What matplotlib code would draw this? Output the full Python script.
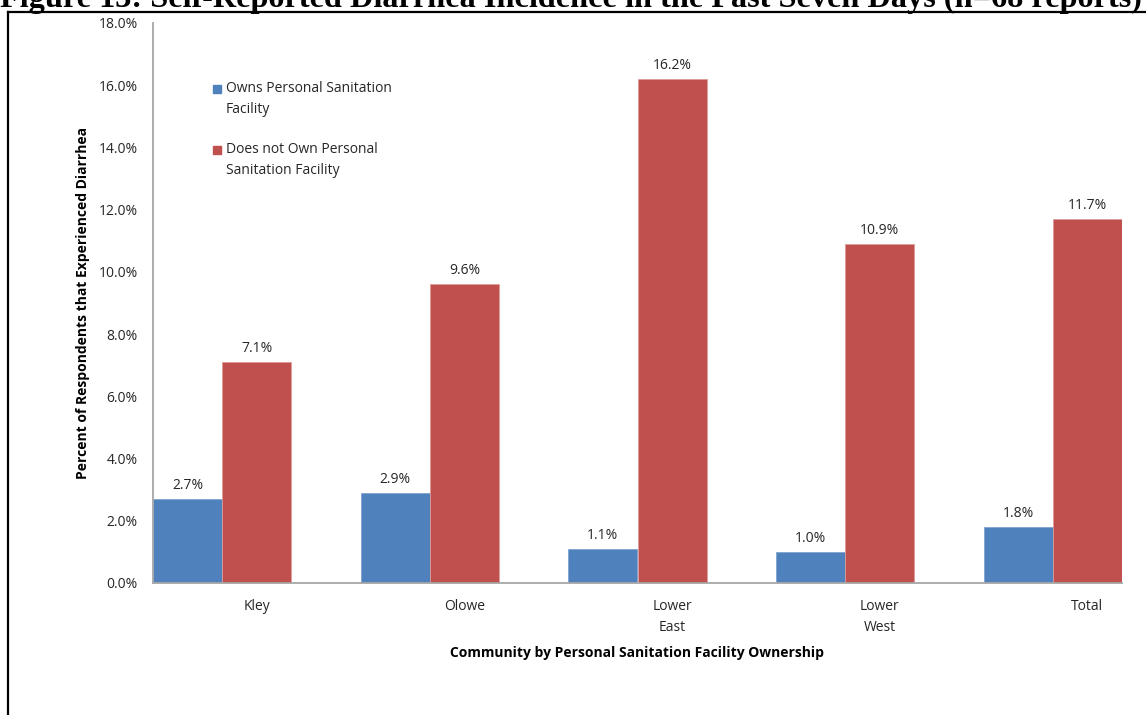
import matplotlib
matplotlib.use("Agg")
import matplotlib.pyplot as plt
from matplotlib.patches import Rectangle
from matplotlib.lines import Line2D
from matplotlib.ticker import FuncFormatter
import numpy as np

# Data
communities = ["Kley", "Olowe", "Lower\nEast", "Lower\nWest", "Total"]
owns_facility = [2.7, 2.9, 1.1, 1.0, 1.8]
no_facility = [7.1, 9.6, 16.2, 10.9, 11.7]
series_names = ["Owns Personal Sanitation\nFacility",
                "Does not Own Personal\nSanitation Facility"]
title = "Figure 13: Self-Reported Diarrhea Incidence in the Past Seven Days (n=68 reports)"
x_title = "Community by Personal Sanitation Facility Ownership"
y_title = "Percent of Respondents that Experienced Diarrhea"
y_ticks = [0, 2, 4, 6, 8, 10, 12, 14, 16, 18]

BLUE = "#4F81BD"
RED = "#C0504D"
TEXT = "#262626"
AXIS = "#a6a6a6"
FONT = "Open Sans"
FS = 10.0

W, H, DPI = 1146, 715, 100
fig = plt.figure(figsize=(W / DPI, H / DPI), dpi=DPI)


def px(x, y):
    """Pixel position (from top-left) to figure fraction."""
    return x / W, 1 - y / H


ax_left, ax_right, ax_top, ax_bottom = 153, 1122, 23, 583
ax = fig.add_axes([ax_left / W, 1 - ax_bottom / H,
                   (ax_right - ax_left) / W, (ax_bottom - ax_top) / H])

bw = 1 / 3
x = np.arange(len(communities))
b1 = ax.bar(x - bw / 2, owns_facility, width=bw, color=BLUE,
            edgecolor="#7fa3d1", linewidth=0.6, zorder=2)
b2 = ax.bar(x + bw / 2, no_facility, width=bw, color=RED,
            edgecolor="#dc9c9a", linewidth=0.6, zorder=2)

for bars, vals in ((b1, owns_facility), (b2, no_facility)):
    for rect, v in zip(bars, vals):
        ax.annotate(f"{v:.1f}%", (rect.get_x() + rect.get_width() / 2, v),
                    xytext=(0, 4.5), textcoords="offset points",
                    ha="center", va="bottom", fontsize=FS,
                    family=FONT, color=TEXT)

ax.set_xlim(-bw, len(communities) - 1 + bw)
ax.set_ylim(0, 18)
ax.set_yticks(y_ticks)
ax.yaxis.set_major_formatter(FuncFormatter(lambda v, _: f"{v:.1f}%"))
ax.set_xticks(x + bw / 2)
ax.set_xticklabels(communities, linespacing=1.55)
ax.tick_params(axis="both", length=0, labelsize=FS, labelcolor=TEXT)
ax.tick_params(axis="x", pad=11.5)
ax.tick_params(axis="y", pad=11)
for lab in ax.get_xticklabels() + ax.get_yticklabels():
    lab.set_family(FONT)

for s in ("top", "right"):
    ax.spines[s].set_visible(False)
for s in ("left", "bottom"):
    ax.spines[s].set_color(AXIS)
    ax.spines[s].set_linewidth(1.3)

ax.set_xlabel(x_title, fontsize=FS, fontweight="bold", family=FONT, color="black")
ax.xaxis.set_label_coords((637 - ax_left) / (ax_right - ax_left),
                          (ax_bottom - 646) / (ax_bottom - ax_top))
ax.set_ylabel(y_title, fontsize=FS, fontweight="bold", family=FONT,
              color="black", va="center")
ax.yaxis.set_label_coords((83 - ax_left) / (ax_right - ax_left), 0.5)

# Legend drawn as squares with wrapped labels aligned to the first line
for (sy, color, label) in ((89, BLUE, series_names[0]), (150, RED, series_names[1])):
    fig.patches.append(Rectangle(px(213, sy + 4), 8 / W, 8 / H,
                                 transform=fig.transFigure, color=color))
    fig.text(*px(226, sy - 8), label, ha="left", va="top", fontsize=FS,
             family=FONT, color=TEXT, linespacing=1.55)

# Page frame lines
fig.add_artist(Line2D([8 / W, 8 / W], [0, 1 - 12 / H], transform=fig.transFigure,
                      color="black", lw=1.6))
fig.add_artist(Line2D([8 / W, 1], [1 - 12 / H, 1 - 12 / H], transform=fig.transFigure,
                      color="black", lw=1.6))

# Document heading, partially above the page edge
t = fig.text(*px(0, 7), title, ha="left", va="baseline", fontsize=20,
             family="Liberation Serif", fontweight="bold", color="black")
fig.canvas.draw()
wpx = t.get_window_extent().width
t.set_fontsize(20 * 1141 / wpx)

fig.savefig("out.png", dpi=DPI)
